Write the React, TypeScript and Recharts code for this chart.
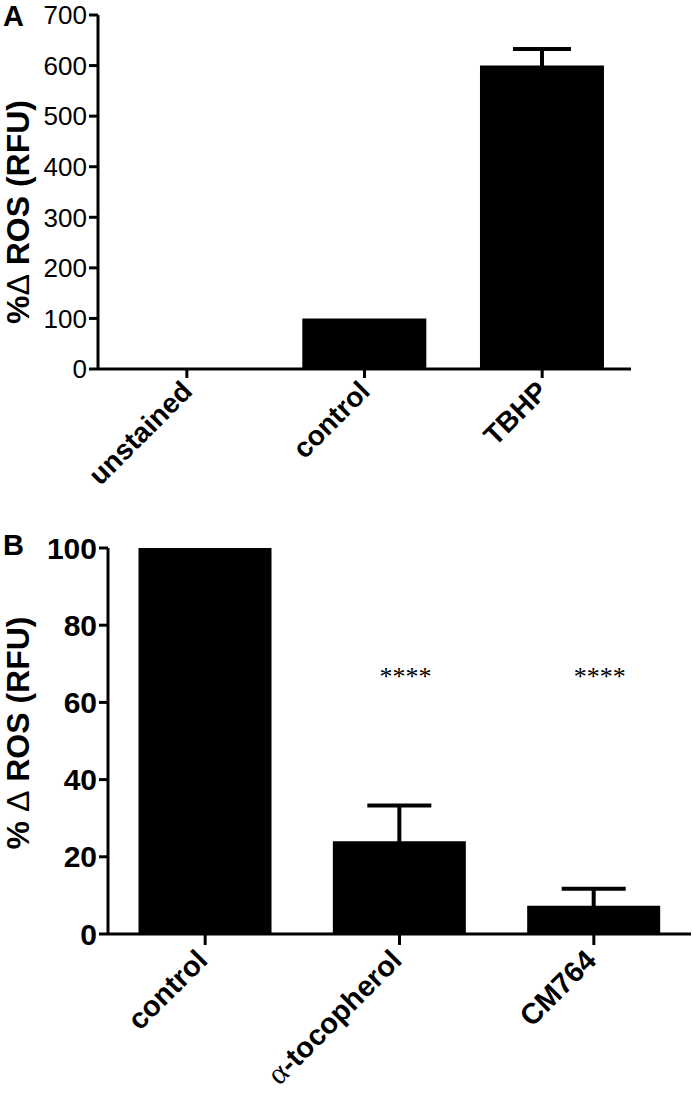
import {
  Bar,
  BarChart,
  ErrorBar,
  ReferenceDot,
  XAxis,
  YAxis,
} from "recharts";

// Panel A: ROS after staining / TBHP
const groupsA = ["unstained", "control", "TBHP"];
const meansA = [0, 100, 600];
const semA = [null, null, 33];
const ticksA = [0, 100, 200, 300, 400, 500, 600, 700];

// Panel B: antioxidant treatment vs control
const groupsB = ["control", "α-tocopherol", "CM764"];
const meansB = [100, 24, 7.3];
const semB = [null, 9.3, 4.4];
const ticksB = [0, 20, 40, 60, 80, 100];
const starsB = ["", "****", "****"];
const starLevel = 68;

const dataA = groupsA.map((name, i) => ({ name, value: meansA[i], err: semA[i] }));
const dataB = groupsB.map((name, i) => ({ name, value: meansB[i], err: semB[i] }));

const SANS = "'Liberation Sans', Arial, sans-serif";
const SERIF = "'Liberation Serif', 'Times New Roman', serif";

function RotatedTick({ x, y, payload, fontSize, dx, dy }: any) {
  const v: string = payload.value;
  const greek = v.startsWith("α");
  return (
    <g transform={`translate(${x + dx},${y + dy})`}>
      <text
        textAnchor="end"
        transform="rotate(-45)"
        fontFamily={SANS}
        fontWeight="bold"
        fontSize={fontSize}
        fill="#000"
      >
        {greek ? (
          <>
            <tspan fontFamily={SERIF} fontWeight="normal" fontSize={fontSize + 2}>α</tspan>
            <tspan>{v.slice(1)}</tspan>
          </>
        ) : (
          v
        )}
      </text>
    </g>
  );
}

function YLabel({ viewBox, text, shift }: any) {
  const cx = 18;
  const cy = viewBox.y + viewBox.height / 2 + shift;
  const [pre, rest] = text.split("Δ");
  return (
    <text
      x={cx}
      y={cy}
      transform={`rotate(-90 ${cx} ${cy})`}
      textAnchor="middle"
      dominantBaseline="central"
      fontFamily={SANS}
      fontWeight="bold"
      fontSize={32}
      fill="#000"
    >
      <tspan>{pre}</tspan>
      <tspan fontWeight="normal">Δ</tspan>
      <tspan>{rest}</tspan>
    </text>
  );
}

const panelLetter = (top: number, letter: string) => (
  <div
    style={{
      position: "absolute",
      left: 3,
      top,
      fontFamily: SANS,
      fontWeight: "bold",
      fontSize: 29,
      lineHeight: 1,
    }}
  >
    {letter}
  </div>
);

export default function App() {
  return (
    <div
      style={{
        position: "absolute",
        left: 0,
        top: 0,
        width: 693,
        height: 1099,
        background: "#fff",
      }}
    >
      {panelLetter(2, "A")}
      <div style={{ position: "absolute", left: 0, top: 0 }}>
        <BarChart
          width={693}
          height={490}
          data={dataA}
          margin={{ top: 15, right: 62, left: 0, bottom: 0 }}
          barCategoryGap="15%"
        >
          <XAxis
            dataKey="name"
            height={121}
            interval={0}
            stroke="#000"
            axisLine={{ strokeWidth: 3 }}
            tickLine={{ strokeWidth: 3 }}
            tickSize={9}
            tick={<RotatedTick fontSize={28} dx={7} dy={13} />}
          />
          <YAxis
            width={98}
            domain={[0, 700]}
            ticks={ticksA}
            interval={0}
            stroke="#000"
            axisLine={{ strokeWidth: 3 }}
            tickLine={{ strokeWidth: 3 }}
            tickSize={9}
            tick={{ fill: "#000", fontSize: 26, fontFamily: SANS }}
            label={<YLabel text="%Δ ROS (RFU)" shift={20} />}
          />
          <Bar dataKey="value" fill="#000" isAnimationActive={false}>
            <ErrorBar dataKey="err" width={29} strokeWidth={4} stroke="#000" />
          </Bar>
        </BarChart>
      </div>

      {panelLetter(531, "B")}
      <div style={{ position: "absolute", left: 0, top: 490 }}>
        <BarChart
          width={693}
          height={609}
          data={dataB}
          margin={{ top: 58, right: 2, left: 0, bottom: 0 }}
          barCategoryGap="15.7%"
        >
          <XAxis
            dataKey="name"
            height={165}
            interval={0}
            stroke="#000"
            axisLine={{ strokeWidth: 3 }}
            tickLine={{ strokeWidth: 3 }}
            tickSize={11}
            tick={<RotatedTick fontSize={29} dx={4} dy={15} />}
          />
          <YAxis
            width={108}
            domain={[0, 100]}
            ticks={ticksB}
            interval={0}
            stroke="#000"
            axisLine={{ strokeWidth: 3 }}
            tickLine={{ strokeWidth: 3 }}
            tickSize={9}
            tick={{ fill: "#000", fontSize: 30, fontWeight: "bold", fontFamily: SANS }}
            label={<YLabel text="% Δ ROS (RFU)" shift={-8} />}
          />
          <Bar dataKey="value" fill="#000" isAnimationActive={false}>
            <ErrorBar dataKey="err" width={32} strokeWidth={4} stroke="#000" />
          </Bar>
          {groupsB.map((g, i) =>
            starsB[i] ? (
              <ReferenceDot
                key={g}
                x={g}
                y={starLevel}
                r={0}
                stroke="none"
                label={{
                  value: starsB[i],
                  position: "center",
                  fill: "#000",
                  fontFamily: SERIF,
                  fontSize: 26,
                  dy: 4,
                  dx: 6,
                }}
              />
            ) : null
          )}
        </BarChart>
      </div>
    </div>
  );
}
